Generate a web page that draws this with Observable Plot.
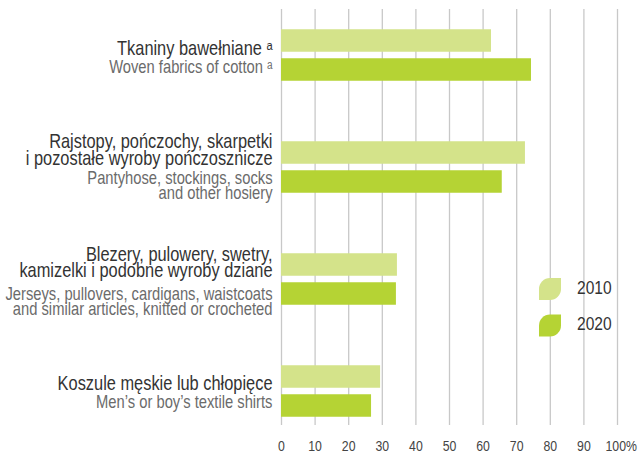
<!DOCTYPE html>
<html>
<head>
<meta charset="utf-8">
<script src="https://cdn.jsdelivr.net/npm/d3@7"></script>
<script src="https://cdn.jsdelivr.net/npm/@observablehq/plot@0.6"></script>
<style>
  html, body { margin: 0; padding: 0; background: #fff; }
  svg { display: block; }
</style>
</head>
<body>
<div id="chart"></div>
<script>
// Product categories (Polish / English), shares in % for two years
const categoriesPl = [
  "Tkaniny bawełniane \u1D43",
  "Rajstopy, pończochy, skarpetki\ni pozostałe wyroby pończosznicze",
  "Blezery, pulowery, swetry,\nkamizelki i podobne wyroby dziane",
  "Koszule męskie lub chłopięce"
];
const categoriesEn = [
  "Woven fabrics of cotton \u1D43",
  "Pantyhose, stockings, socks\nand other hosiery",
  "Jerseys, pullovers, cardigans, waistcoats\nand similar articles, knitted or crocheted",
  "Men’s or boy’s textile shirts"
];
const years = ["2010", "2020"];
const values2010 = [62.5, 72.6, 34.5, 29.5];
const values2020 = [74.4, 65.7, 34.2, 26.8];
const xTicks = [0, 10, 20, 30, 40, 50, 60, 70, 80, 90, 100];

const rows = categoriesPl.map((pl, i) => ({
  pl, en: categoriesEn[i], v2010: values2010[i], v2020: values2020[i]
}));

const colors = ["#d4e38a", "#b5d334"];
const font = "'Liberation Sans', Arial, sans-serif";
const narrow = 0.82; // horizontal squeeze giving a condensed face

// Vertical placement of each label block around its band centre:
// last Polish baseline and first English baseline, in px
const labelShift = [
  {pl: -1, en: 17},
  {pl: -3, en: 16},
  {pl: -2.3, en: 20.3},
  {pl: -2, en: 16}
];
const plSize = 20, plLead = 0.825;
const enSize = 18, enLead = 0.86;

const labelMarks = rows.flatMap((r, i) => [
  Plot.text([r], {
    x: 0, y: "pl", text: "pl", textAnchor: "end", lineAnchor: "bottom",
    dx: -9, dy: labelShift[i].pl, fontSize: plSize, lineHeight: plLead, fill: "#333"
  }),
  Plot.text([r], {
    x: 0, y: "pl", text: "en", textAnchor: "end", lineAnchor: "top",
    dx: -9, dy: labelShift[i].en - 0.71 * enLead * enSize,
    fontSize: enSize, lineHeight: enLead, fill: "#6b6b6b"
  })
]);

const plot = Plot.plot({
  width: 640,
  height: 454,
  marginLeft: 281,
  marginRight: 23,
  marginTop: 9,
  marginBottom: 29,
  style: {fontFamily: font, fontSize: "15px", color: "#444", background: "#fff"},
  x: {
    domain: [0, 100],
    ticks: xTicks,
    tickSize: 0,
    tickPadding: 15,
    tickFormat: d => d === 100 ? "100%" : String(d),
    label: null
  },
  y: {domain: categoriesPl, range: [-2.25, 447.75], padding: 0, axis: null},
  color: {domain: years, range: colors},
  marks: [
    Plot.ruleX(xTicks, {stroke: "#c8c8c8", strokeWidth: 1.3}),
    Plot.barX(rows, {x: "v2010", y: "pl", fill: () => years[0], insetTop: 30.25, insetBottom: 59.25}),
    Plot.barX(rows, {x: "v2020", y: "pl", fill: () => years[1], insetTop: 59.25, insetBottom: 30.25}),
    ...labelMarks
  ]
});

// Legend drawn inside the plot area, at the right
const color = plot.scale("color");
const svg = d3.select(plot);
const legend = svg.append("g").attr("transform", "translate(539,278)");
const leaf = "M0,11A11,11 0 0 1 11,0H22V11A11,11 0 0 1 11,22H0Z";
years.forEach((yr, i) => {
  const g = legend.append("g").attr("transform", `translate(0,${i * 36.5})`);
  g.append("path").attr("d", leaf).attr("fill", color.apply(yr));
  g.append("text")
    .attr("transform", "translate(38,15.5)")
    .attr("fill", "#333")
    .attr("text-anchor", "start")
    .style("font-family", font)
    .style("font-size", "19px")
    .text(yr);
});

// Squeeze every text horizontally around its anchor point
svg.selectAll("text").each(function () {
  const t = d3.select(this);
  const x = +(t.attr("x") || 0);
  let tr = t.attr("transform") || "";
  if (x) {
    tr += ` translate(${x},0)`;
    t.attr("x", null);
  }
  // the percent sign hangs to the right of the last tick value
  if (t.text() === "100%") t.attr("dx", 4.5);
  t.attr("transform", `${tr} scale(${narrow},1)`.trim());
});

document.getElementById("chart").append(plot);
</script>
</body>
</html>
